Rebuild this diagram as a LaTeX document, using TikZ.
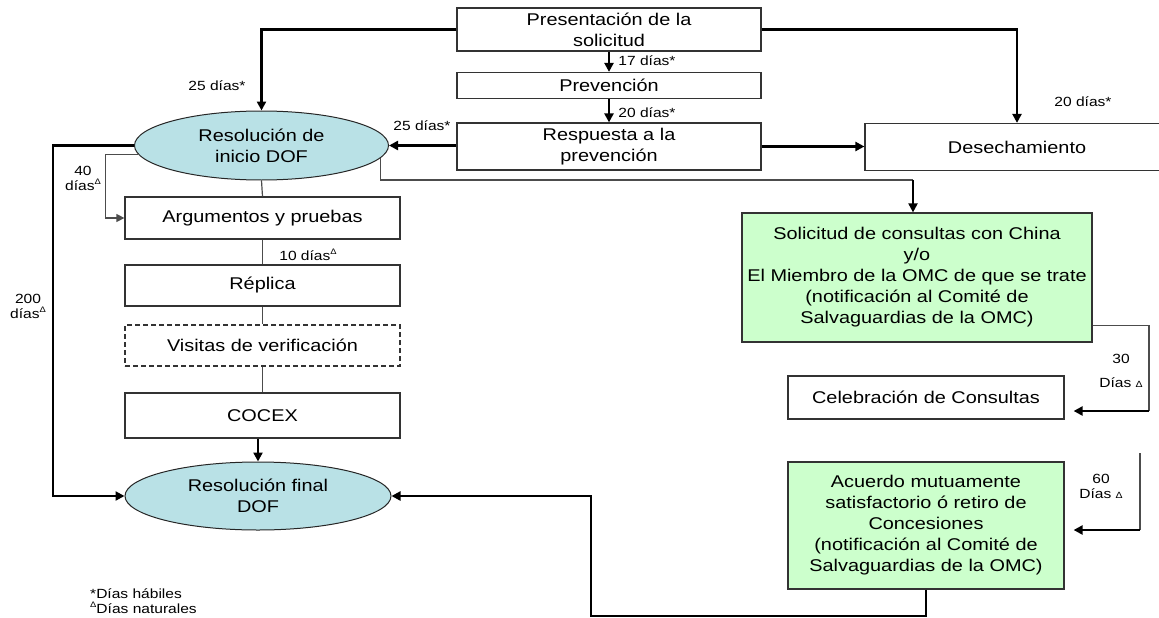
\documentclass[tikz,border=0pt]{standalone}
\usepackage{fontspec}
\setmainfont{Liberation Sans}[FakeStretch=1.17]
\usetikzlibrary{shapes.geometric,arrows.meta,calc}
\definecolor{ellblue}{HTML}{B9E1E6}
\definecolor{boxgreen}{HTML}{CCFFCC}
\newcommand\bigf{\fontsize{17}{21}\selectfont}
\newcommand\smallf{\fontsize{13.3}{15}\selectfont}
\newcommand\dsup{\raisebox{0.8ex}{\fontsize{8}{8}\selectfont Δ}}
\newcommand\dlow{{\fontsize{9}{9}\selectfont Δ}}
\begin{document}
\begin{tikzpicture}[x=1pt,y=-1pt,
  box/.style={draw=black!80, line width=1.2pt, inner sep=0pt, align=center, font=\bigf, fill=white},
  gbox/.style={box, fill=boxgreen},
  ell/.style={ellipse, draw=black!85, line width=1pt, fill=ellblue, inner sep=0pt, align=center, font=\bigf},
  lab/.style={font=\smallf, inner sep=0pt, align=center},
  thk/.style={line width=2.6pt, -{Triangle[length=9pt,width=9pt]}},
  thn/.style={line width=1.2pt, draw=black!70},
  thna/.style={line width=1.2pt, draw=black!70, -{Triangle[length=8pt,width=8pt]}}
]
\clip (0,0) rectangle (1159,618);
\fill[white] (0,0) rectangle (1159,618);

% nodes
\node[box, minimum width=304pt, minimum height=43pt] (pres) at (609,29.5) {Presentación de la\\solicitud};
\node[box, minimum width=304pt, minimum height=26pt] (prev) at (609,85.5) {Prevención};
\node[box, minimum width=304pt, minimum height=47pt] (resp) at (609,146.5) {Respuesta a la\\prevención};
\node[box, minimum width=304pt, minimum height=47pt] (desech) at (1017,147) {Desechamiento};
\node[ell, minimum width=254pt, minimum height=69pt] (rini) at (261.5,145.5) {Resolución de\\inicio DOF};
\node[box, minimum width=275pt, minimum height=42pt] (arg) at (262.5,218) {Argumentos y pruebas};
\node[box, minimum width=275pt, minimum height=41pt] (rep) at (262.5,285.5) {Réplica};
\node[box, minimum width=275pt, minimum height=41pt, dash pattern=on 5pt off 3pt, line width=1.6pt] (vis) at (262.5,345.5) {Visitas de verificación};
\node[box, minimum width=275pt, minimum height=45pt] (cocex) at (262.5,415.5) {COCEX};
\node[ell, minimum width=266pt, minimum height=68pt] (rfin) at (258,496) {Resolución final\\DOF};
\node[gbox, minimum width=350pt, minimum height=129pt] (sol) at (917,277.5) {Solicitud de consultas con China\\y/o\\El Miembro de la OMC de que se trate\\(notificación al Comité de\\Salvaguardias de la OMC)};
\node[box, minimum width=276pt, minimum height=43pt] (cel) at (926,397.5) {Celebración de Consultas};
\node[gbox, minimum width=276pt, minimum height=127pt] (acu) at (926,525.5) {Acuerdo mutuamente\\satisfactorio ó retiro de\\Concesiones\\(notificación al Comité de\\Salvaguardias de la OMC)};

% labels
\node[lab] (l1) at (217,86) {25 días*};
\node[lab] (l2) at (647,61) {17 días*};
\node[lab] (l3) at (647,113) {20 días*};
\node[lab] (l4) at (422,126) {25 días*};
\node[lab] (l5) at (1083,102) {20 días*};
\node[lab] (l6) at (83,178) {40\\días\dsup};
\node[lab] (l7) at (308,255) {10 días\dsup};
\node[lab] (l8) at (28,306) {200\\días\dsup};
\node[lab] (l9) at (1121,371) {30\\[9pt]Días \dlow};
\node[lab] (l10) at (1101,486) {60\\Días \dlow};
\node[lab, align=left, anchor=north west] (fn) at (90,588) {*Días hábiles\\\dsup Días naturales};

% coordinates
\coordinate (c1) at (913,180);
\coordinate (c2) at (1149,411);
\coordinate (c3) at (1140,453);
\coordinate (c3b) at (1140,530);
\coordinate (c4) at (591,616);

% connectors
\draw[thk] (pres.west) -| (rini.north);
\draw[thk] (pres.east) -| (desech.north);
\draw[thk] (pres.south) -- (prev.north);
\draw[thk] (prev.south) -- (resp.north);
\draw[thk] (resp.west |- rini.east) -- (rini.east);
\draw[thk] (resp.east) -- (resp.east -| desech.west);
\draw[thk] (rini.west) -- ++(-81,0) |- (rfin.west);
\draw[thna] (rini.184) -| ([xshift=-19pt]arg.west) -- (arg.west);
\draw[thn] (rini.south) -- (arg.north);
\draw[thn] (arg.south) -- (rep.north);
\draw[thn] (rep.south) -- (vis.north);
\draw[thn] (vis.south) -- (cocex.north);
\draw[thk] (rfin.north |- cocex.south) -- (rfin.north);
\draw[thn] (rini.354) |- (c1);
\draw[line width=2pt, -{Triangle[length=9pt,width=9pt]}] (c1) -- (c1 |- sol.north);
\draw[thn] ([yshift=17pt]sol.south east) -| (c2);
\draw[thk, shorten >=9pt] (c2) -- (c2 -| cel.east);
\draw[thn] (c3) -- (c3b);
\draw[thk, shorten >=9pt] (c3b) -- (c3b -| acu.east);
\draw[thk] (acu.south) |- (c4) |- (rfin.east);
\end{tikzpicture}
\end{document}
